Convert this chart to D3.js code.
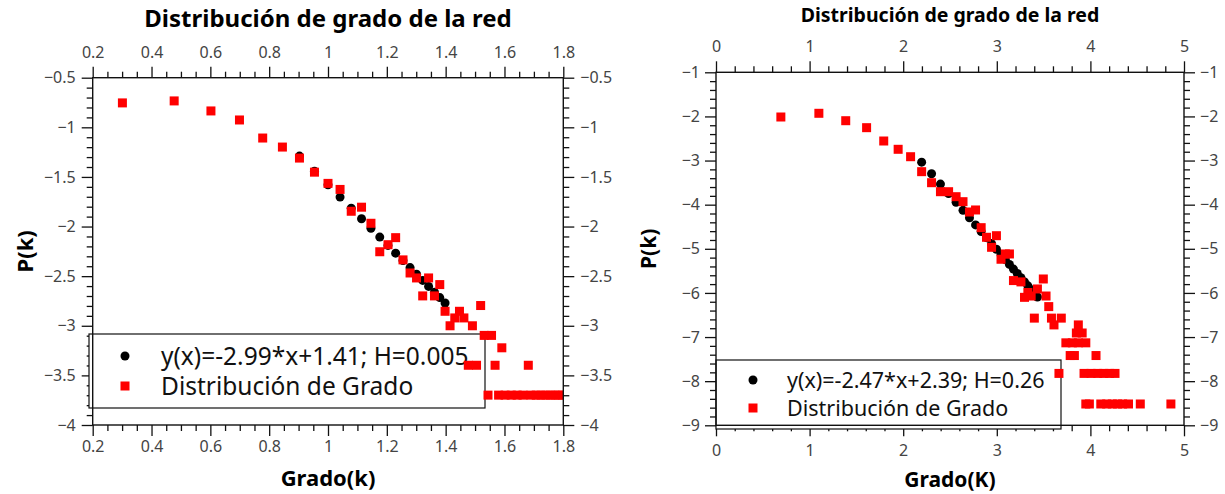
<!DOCTYPE html>
<html lang="es">
<head>
<meta charset="utf-8">
<title>Distribución de grado de la red</title>
<script src="https://d3js.org/d3.v7.min.js"></script>
<style>
  body { margin: 0; background: #fff; }
  svg text { font-family: "Noto Sans", sans-serif; }
</style>
</head>
<body>
<script>
// ---- left panel: log10 ----
var leftTicksX = [0.2, 0.4, 0.6, 0.8, 1, 1.2, 1.4, 1.6, 1.8];
var leftTicksY = [-4, -3.5, -3, -2.5, -2, -1.5, -1, -0.5];

// Distribución de Grado (red squares)
var leftDist = [
  [0.301,-0.754],[0.477,-0.734],[0.602,-0.835],[0.699,-0.926],[0.778,-1.108],
  [0.845,-1.199],[0.903,-1.310],[0.954,-1.452],[1.000,-1.565],[1.041,-1.626],
  [1.079,-1.846],[1.114,-1.805],[1.146,-1.967],[1.176,-2.254],[1.204,-2.183],
  [1.230,-2.112],[1.255,-2.336],[1.279,-2.468],[1.301,-2.518],[1.322,-2.699],
  [1.342,-2.518],[1.362,-2.699],[1.380,-2.585],[1.398,-2.854],[1.415,-3.000],
  [1.431,-2.921],[1.447,-2.854],[1.462,-2.921],[1.477,-3.398],[1.491,-3.000],
  [1.505,-3.398],[1.519,-2.796],[1.531,-3.097],[1.544,-3.699],[1.556,-3.097],
  [1.568,-3.398],[1.580,-3.699],[1.591,-3.222],[1.602,-3.699],[1.623,-3.699],
  [1.643,-3.699],[1.663,-3.699],[1.681,-3.398],[1.690,-3.699],[1.708,-3.699],
  [1.724,-3.699],[1.740,-3.699],[1.756,-3.699],[1.771,-3.699],[1.785,-3.699],
  [1.799,-3.699]
];
// ajuste y(x)=-2.99*x+1.41 (black circles)
var leftFit = [
  [0.903,-1.290],[0.954,-1.442],[1.000,-1.580],[1.041,-1.703],[1.079,-1.816],
  [1.114,-1.921],[1.146,-2.017],[1.176,-2.106],[1.204,-2.190],[1.230,-2.268],
  [1.255,-2.342],[1.279,-2.414],[1.301,-2.480],[1.322,-2.543],[1.342,-2.603],
  [1.362,-2.662],[1.380,-2.716],[1.398,-2.770]
];

// ---- right panel: ln ----
var rightTicksX = [0, 1, 2, 3, 4, 5];
var rightTicksY = [-9, -8, -7, -6, -5, -4, -3, -2, -1];

var rightDist = [
  [0.693,-2.013],[1.099,-1.929],[1.386,-2.097],[1.609,-2.255],[1.792,-2.557],
  [1.946,-2.745],[2.079,-2.913],[2.197,-3.252],[2.303,-3.502],[2.398,-3.706],
  [2.485,-3.706],[2.565,-3.819],[2.639,-3.932],[2.708,-4.166],[2.773,-4.120],
  [2.833,-4.521],[2.890,-4.739],[2.944,-4.966],[2.996,-4.703],[3.045,-5.237],
  [3.091,-5.117],[3.135,-5.117],[3.178,-5.720],[3.258,-5.750],[3.296,-6.100],
  [3.332,-5.990],[3.367,-6.070],[3.401,-6.571],[3.434,-5.910],[3.497,-5.684],
  [3.526,-6.070],[3.555,-6.310],[3.584,-6.571],[3.611,-6.725],[3.664,-7.824],
  [3.689,-6.571],[3.738,-7.131],[3.784,-7.419],[3.807,-7.131],[3.829,-7.419],
  [3.850,-6.908],[3.871,-6.725],[3.871,-7.131],[3.912,-6.908],[3.951,-7.131],
  [3.932,-7.824],[4.007,-7.824],[4.060,-7.419],[4.078,-7.824],[4.143,-7.824],
  [4.205,-7.824],[4.263,-7.824],[3.951,-8.517],[3.989,-8.517],[4.111,-8.517],
  [4.174,-8.517],[4.234,-8.517],[4.290,-8.517],[4.344,-8.517],[4.407,-8.517],
  [4.533,-8.517],[4.860,-8.517]
];
// ajuste y(x)=-2.47*x+2.39
var rightFit = [
  [2.197,-3.037],[2.303,-3.298],[2.398,-3.533],[2.485,-3.748],[2.565,-3.946],
  [2.639,-4.128],[2.708,-4.299],[2.773,-4.459],[2.833,-4.608],[2.890,-4.748],
  [2.944,-4.882],[2.996,-5.010],[3.045,-5.131],[3.091,-5.245],[3.135,-5.353],
  [3.178,-5.460],[3.219,-5.561],[3.258,-5.657],[3.296,-5.751],[3.332,-5.840],
  [3.367,-5.926],[3.401,-6.010],[3.434,-6.092]
];

var w = 1225, h = 494;
var svg = d3.select("body").append("svg")
  .attr("width", w).attr("height", h);

var fmt = d3.format("~g");

function panel(c) {
  var x = d3.scaleLinear().domain(c.xDomain).range([c.left, c.right]);
  var y = d3.scaleLinear().domain(c.yDomain).range([c.bottom, c.top]);
  var g = svg.append("g");

  var minorX = d3.range(c.xDomain[0], c.xDomain[1] + 1e-9, c.xMinor)
    .filter(function(v){ return c.ticksX.every(function(t){ return Math.abs(t - v) > 1e-6; }); });
  var minorY = d3.range(c.yDomain[0], c.yDomain[1] + 1e-9, c.yMinor)
    .filter(function(v){ return c.ticksY.every(function(t){ return Math.abs(t - v) > 1e-6; }); });

  function axis(gen, tr, major, minor, pad) {
    var a = g.append("g").attr("transform", tr)
      .call(gen.tickValues(major).tickSize(11).tickSizeOuter(0).tickPadding(pad).tickFormat(fmt));
    a.select(".domain").remove();
    a.selectAll("line").attr("stroke", "#111").attr("stroke-width", 1.3);
    a.selectAll("text").attr("fill", "#444").style("font-size", c.tickFont + "px");
    var m = g.append("g").attr("transform", tr)
      .call(gen.tickValues(minor).tickSize(6).tickSizeOuter(0).tickFormat(""));
    m.select(".domain").remove();
    m.selectAll("line").attr("stroke", "#111").attr("stroke-width", 1.3);
  }
  axis(d3.axisBottom(x), "translate(0," + c.bottom + ")", c.ticksX, minorX, c.padBottom);
  axis(d3.axisTop(x), "translate(0," + c.top + ")", c.ticksX, minorX, c.padTop);
  axis(d3.axisLeft(y), "translate(" + c.left + ",0)", c.ticksY, minorY, c.padSide);
  axis(d3.axisRight(y), "translate(" + c.right + ",0)", c.ticksY, minorY, c.padSide);

  // legend
  var L = c.legend;
  g.append("rect")
    .attr("x", L.x).attr("y", L.y).attr("width", L.w).attr("height", L.h)
    .attr("fill", "#fff").attr("stroke", "#111").attr("stroke-width", 1.2);
  g.append("circle").attr("cx", L.mx).attr("cy", L.y1).attr("r", 4.5).attr("fill", "#000");
  g.append("rect").attr("x", L.mx - 4.5).attr("y", L.y2 - 4.5)
    .attr("width", 9).attr("height", 9).attr("fill", "#ff0000");
  g.append("text").attr("x", L.tx).attr("y", L.y1).attr("dy", "0.35em")
    .style("font-size", L.font + "px").attr("fill", "#111").text(c.fitLabel);
  g.append("text").attr("x", L.tx).attr("y", L.y2).attr("dy", "0.35em")
    .style("font-size", L.font + "px").attr("fill", "#111").text("Distribución de Grado");

  // data
  var clipId = "clip" + c.id;
  svg.append("clipPath").attr("id", clipId).append("rect")
    .attr("x", c.left).attr("y", c.top)
    .attr("width", c.right - c.left).attr("height", c.bottom - c.top);
  var pts = g.append("g").attr("clip-path", "url(#" + clipId + ")");
  pts.selectAll("circle.fit").data(c.fit).enter().append("circle")
    .attr("class", "fit")
    .attr("cx", function(d){ return x(d[0]); })
    .attr("cy", function(d){ return y(d[1]); })
    .attr("r", 4.5).attr("fill", "#000");
  pts.selectAll("rect.dist").data(c.dist).enter().append("rect")
    .attr("class", "dist")
    .attr("x", function(d){ return x(d[0]) - 4.5; })
    .attr("y", function(d){ return y(d[1]) - 4.5; })
    .attr("width", 9).attr("height", 9).attr("fill", "#ff0000");

  // frame
  g.append("rect")
    .attr("x", c.left).attr("y", c.top)
    .attr("width", c.right - c.left).attr("height", c.bottom - c.top)
    .attr("fill", "none").attr("stroke", "#111").attr("stroke-width", 1.4);

  // titles
  var cx = (c.left + c.right) / 2;
  g.append("text").attr("x", cx).attr("y", c.titleY).attr("text-anchor", "middle")
    .style("font-size", c.titleFont + "px").style("font-weight", "bold")
    .text("Distribución de grado de la red");
  g.append("text").attr("x", cx).attr("y", c.xLabelY).attr("text-anchor", "middle")
    .style("font-size", c.labelFont + "px").style("font-weight", "bold")
    .text(c.xLabel);
  g.append("text")
    .attr("transform", "translate(" + c.yLabelX + "," + ((c.top + c.bottom) / 2) + ") rotate(-90)")
    .attr("text-anchor", "middle")
    .style("font-size", c.labelFont + "px").style("font-weight", "bold")
    .text("P(k)");
}

panel({
  id: "L", left: 92.7, right: 563.3, top: 77.7, bottom: 425,
  xDomain: [0.2, 1.8], yDomain: [-4, -0.5], xMinor: 0.05, yMinor: 0.1,
  ticksX: leftTicksX, ticksY: leftTicksY,
  padTop: 9, padBottom: 5, padSide: 6, tickFont: 16,
  dist: leftDist, fit: leftFit, fitLabel: "y(x)=-2.99*x+1.41; H=0.005",
  legend: { x: 89, y: 334, w: 396, h: 74, mx: 125, tx: 161, y1: 356, y2: 386, font: 24.5 },
  titleY: 27, titleFont: 24, xLabel: "Grado(k)", xLabelY: 486, labelFont: 22, yLabelX: 33
});

panel({
  id: "R", left: 716, right: 1184, top: 72.3, bottom: 425.3,
  xDomain: [0, 5], yDomain: [-9, -1], xMinor: 0.2, yMinor: 0.2,
  ticksX: rightTicksX, ticksY: rightTicksY,
  padTop: 9, padBottom: 8, padSide: 5, tickFont: 16,
  dist: rightDist, fit: rightFit, fitLabel: "y(x)=-2.47*x+2.39; H=0.26",
  legend: { x: 716, y: 360, w: 345, h: 69, mx: 753, tx: 787, y1: 380, y2: 408, font: 21.5 },
  titleY: 22, titleFont: 19.5, xLabel: "Grado(K)", xLabelY: 487, labelFont: 21, yLabelX: 656
});
</script>
</body>
</html>
